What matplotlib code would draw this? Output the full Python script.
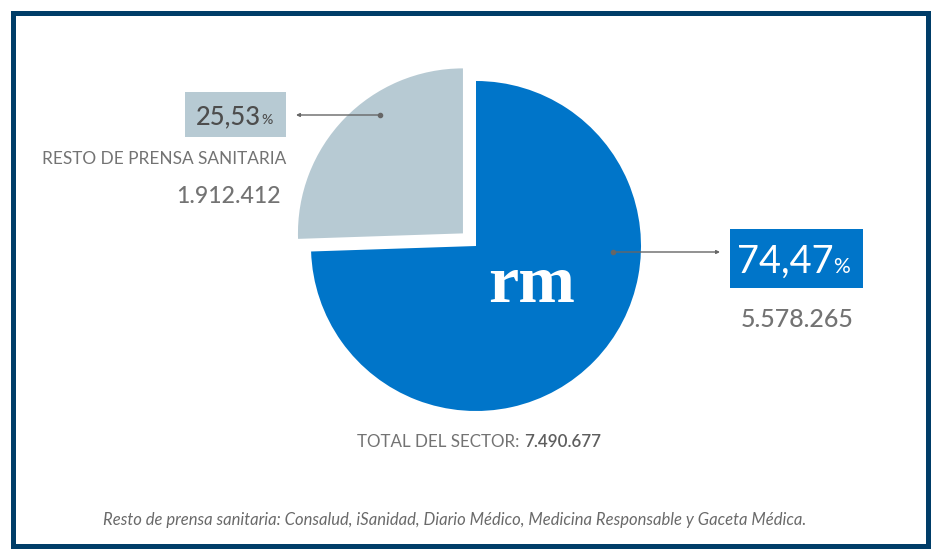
import matplotlib
matplotlib.use("Agg")
import matplotlib.pyplot as plt
from matplotlib.patches import Rectangle

# ---- data ----
segments = ["Resto de prensa sanitaria", "rm"]
shares = [25.53, 74.47]
audience = [1912412, 5578265]
total_sector = 7490677
footnote = ("Resto de prensa sanitaria: Consalud, iSanidad, Diario Médico, "
            "Medicina Responsable y Gaceta Médica.")

GREY = "#b7cad3"
BLUE = "#0075c9"
NAVY = "#003d68"
TXT = "#737373"
DARK = "#4d4d4d"

W, H = 940, 558


def Y(yp):
    return H - yp


def fs(px):
    return px * 72 / 100


def fmt_num(v):
    return f"{v:,}".replace(",", ".")


def fmt_pct(v):
    return f"{v:.2f}".replace(".", ",")


plt.rcParams['font.family'] = ['Lato', 'DejaVu Sans']

fig = plt.figure(figsize=(W / 100, H / 100), dpi=100)
ax = fig.add_axes([0, 0, 1, 1])

R = 165
ax.pie(shares, colors=[GREY, BLUE], startangle=90, counterclock=True,
       explode=[0.11 * R, 0], center=(476, Y(246)), radius=R,
       wedgeprops=dict(linewidth=0))
ax.set_xlim(0, W)
ax.set_ylim(0, H)
ax.set_aspect('equal')
ax.axis('off')

renderer = fig.canvas.get_renderer()


def right_x(t, gap=1.5):
    bb = t.get_window_extent(renderer=renderer)
    return ax.transData.inverted().transform((bb.x1, bb.y0))[0] + gap


# border
ax.add_patch(Rectangle((12.5, Y(545.5)), 915, 533, fill=False,
                       edgecolor=NAVY, lw=fs(5), zorder=5))

# left label
ax.add_patch(Rectangle((185, Y(137)), 101, 45, facecolor=GREY, lw=0))
t = ax.text(196, Y(124), fmt_pct(shares[0]), ha='left', va='baseline',
            fontsize=fs(25.5), color=DARK, fontweight='medium')
ax.text(right_x(t, 0), Y(124), "%", ha='left', va='baseline', fontsize=fs(14),
        color=DARK, fontweight='medium')
ax.text(286, Y(164), segments[0].upper(), ha='right', va='baseline',
        fontsize=fs(17.3), color=TXT)
ax.text(281, Y(203), fmt_num(audience[0]), ha='right', va='baseline',
        fontsize=fs(23), color=TXT, fontweight='medium')
ax.annotate('', xy=(296, Y(115)), xytext=(380, Y(115)),
            arrowprops=dict(arrowstyle='-|>', color='#666666', lw=1,
                            mutation_scale=5, shrinkA=0, shrinkB=0))
ax.plot([380], [Y(115)], 'o', color='#666666', ms=3)

# right label
ax.add_patch(Rectangle((730, Y(288)), 133, 59, facecolor=BLUE, lw=0))
t = ax.text(737, Y(273), fmt_pct(shares[1]), ha='left', va='baseline',
            fontsize=fs(38), color='white')
ax.text(right_x(t, 0), Y(273), "%", ha='left', va='baseline', fontsize=fs(21),
        color='white')
ax.text(797, Y(327), fmt_num(audience[1]), ha='center', va='baseline',
        fontsize=fs(25), color=TXT, fontweight='medium')
ax.annotate('', xy=(720, Y(252)), xytext=(613, Y(252)),
            arrowprops=dict(arrowstyle='-|>', color='#666666', lw=1,
                            mutation_scale=5, shrinkA=0, shrinkB=0))
ax.plot([613], [Y(252)], 'o', color='#666666', ms=3)

# rm logo text
ax.text(532, Y(302), segments[1], ha='center', va='baseline',
        fontsize=fs(68), color='white', fontweight='bold',
        family=['Liberation Serif', 'DejaVu Serif'])

# total (label + bolder figure)
t1 = ax.text(357, Y(447), "TOTAL DEL SECTOR: ", ha='left', va='baseline',
             fontsize=fs(17), color=TXT)
ax.text(right_x(t1, 0), Y(447), fmt_num(total_sector), ha='left',
        va='baseline', fontsize=fs(17), color='#5e5e5e', fontweight='semibold')

# footnote
ax.text(455, Y(525), footnote, ha='center', va='baseline',
        fontsize=fs(16.6), color='#6a6a6a', style='italic')

fig.savefig("out.png", dpi=100)
